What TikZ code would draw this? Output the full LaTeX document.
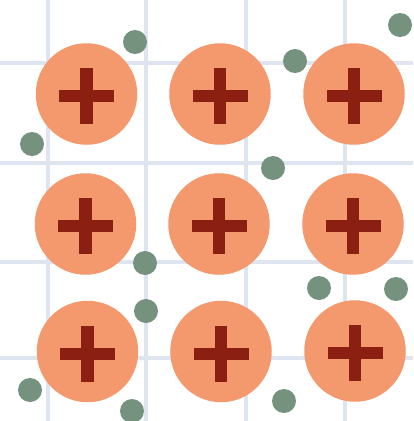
\documentclass[tikz,border=0pt]{standalone}
\begin{document}
\begin{tikzpicture}[x=1pt,y=-1pt,
  gridline/.style={draw=gridc,line width=4.5pt},
  ion/.style={circle,fill=ionc,inner sep=0pt,minimum size=101.5pt},
  electron/.style={circle,fill=elc,inner sep=0pt,minimum size=24pt},
  plusbar/.style={fill=plusc}]
\definecolor{gridc}{HTML}{DFE4F1}
\definecolor{ionc}{HTML}{F4996E}
\definecolor{plusc}{HTML}{8A1F12}
\definecolor{elc}{HTML}{74927E}
\useasboundingbox (0,0) rectangle (413,421);
\fill[white] (0,0) rectangle (413,421);
% grid
\foreach \gx in {48,146,246,345} \draw[gridline] (\gx,0) -- (\gx,421);
\foreach \gy in {63,163,262,358} \draw[gridline] (0,\gy) -- (413,\gy);
% ions
\foreach \nm/\cx/\cy in {a/86.5/94, b/220/94, c/354/94, d/85.5/224, e/219/224, f/353/224, g/87.5/351.5, h/221/351.5, i/355/351}{
  \node[ion] (\nm) at (\cx,\cy) {};
  \fill[plusbar] ([shift={(-6.2,-26)}]\nm.center) rectangle ([shift={(6.2,30)}]\nm.center);
  \fill[plusbar] ([shift={(-27.5,-4)}]\nm.center) rectangle ([shift={(27.5,8)}]\nm.center);
}
% electrons
\foreach \nm/\ex/\ey in {e1/135/42, e2/32/144, e3/400/25, e4/295/61, e5/273/168, e6/145/263, e7/146/311, e8/30/390, e9/132/411, e10/319/288, e11/396/289, e12/284/401}{
  \node[electron] (\nm) at (\ex,\ey) {};
}
\end{tikzpicture}
\end{document}
